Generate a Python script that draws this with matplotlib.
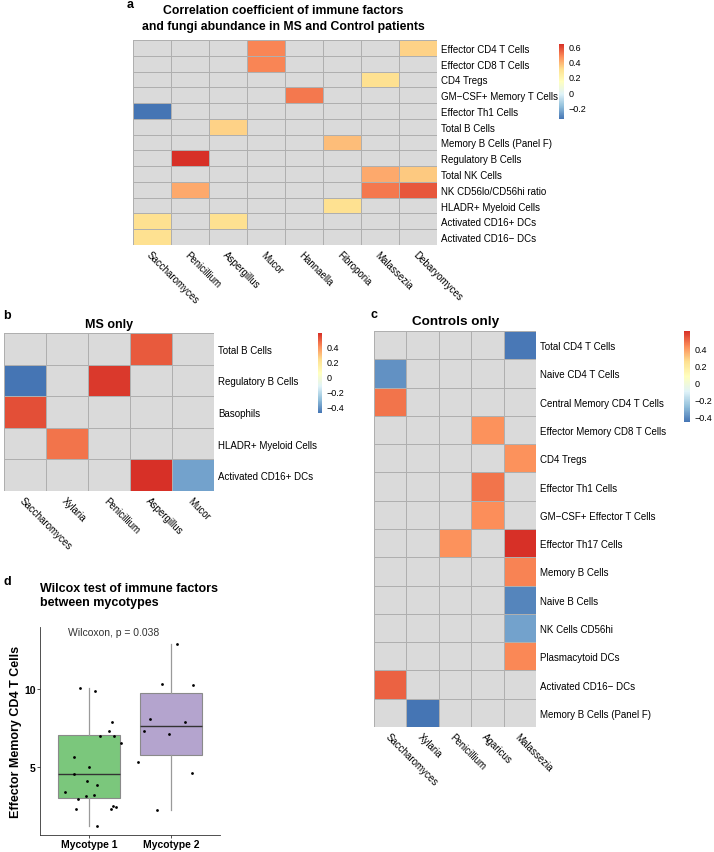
import numpy as np
import matplotlib
matplotlib.use("Agg")
import matplotlib.pyplot as plt
from matplotlib.colors import LinearSegmentedColormap, Normalize
from matplotlib.cm import ScalarMappable

plt.rcParams['font.family'] = ['Liberation Sans', 'DejaVu Sans']

nan = np.nan

# ---- panel a : correlation, MS + controls ----
a_fungi = ['Saccharomyces', 'Penicillium', 'Aspergillus', 'Mucor',
           'Hannaella', 'Fibroporia', 'Malassezia', 'Debaryomyces']
a_cells = ['Effector CD4 T Cells', 'Effector CD8 T Cells', 'CD4 Tregs',
           'GM\u2212CSF+ Memory T Cells', 'Effector Th1 Cells', 'Total B Cells',
           'Memory B Cells (Panel F)', 'Regulatory B Cells', 'Total NK Cells',
           'NK CD56lo/CD56hi ratio', 'HLADR+ Myeloid Cells',
           'Activated CD16+ DCs', 'Activated CD16\u2212 DCs']
a_vals = [
    [nan, nan, nan, 0.48, nan, nan, nan, 0.33],
    [nan, nan, nan, 0.48, nan, nan, nan, nan],
    [nan, nan, nan, nan, nan, nan, 0.30, nan],
    [nan, nan, nan, nan, 0.50, nan, nan, nan],
    [-0.35, nan, nan, nan, nan, nan, nan, nan],
    [nan, nan, 0.33, nan, nan, nan, nan, nan],
    [nan, nan, nan, nan, nan, 0.37, nan, nan],
    [nan, 0.63, nan, nan, nan, nan, nan, nan],
    [nan, nan, nan, nan, nan, nan, 0.41, 0.35],
    [nan, 0.41, nan, nan, nan, nan, 0.50, 0.56],
    [nan, nan, nan, nan, nan, 0.30, nan, nan],
    [0.30, nan, 0.30, nan, nan, nan, nan, nan],
    [0.30, nan, nan, nan, nan, nan, nan, nan],
]
a_ticks = [0.6, 0.4, 0.2, 0, -0.2]

# ---- panel b : MS only ----
b_fungi = ['Saccharomyces', 'Xylaria', 'Penicillium', 'Aspergillus', 'Mucor']
b_cells = ['Total B Cells', 'Regulatory B Cells', 'Basophils',
           'HLADR+ Myeloid Cells', 'Activated CD16+ DCs']
b_vals = [
    [nan, nan, nan, 0.50, nan],
    [-0.48, nan, 0.56, nan, nan],
    [0.52, nan, nan, nan, nan],
    [nan, 0.45, nan, nan, nan],
    [nan, nan, nan, 0.58, -0.37],
]
b_ticks = [0.4, 0.2, 0, -0.2, -0.4]

# ---- panel c : controls only ----
c_fungi = ['Saccharomyces', 'Xylaria', 'Penicillium', 'Agaricus', 'Malassezia']
c_cells = ['Total CD4 T Cells', 'Naive CD4 T Cells', 'Central Memory CD4 T Cells',
           'Effector Memory CD8 T Cells', 'CD4 Tregs', 'Effector Th1 Cells',
           'GM\u2212CSF+ Effector T Cells', 'Effector Th17 Cells', 'Memory B Cells',
           'Naive B Cells', 'NK Cells CD56hi', 'Plasmacytoid DCs',
           'Activated CD16\u2212 DCs', 'Memory B Cells (Panel F)']
c_vals = [
    [nan, nan, nan, nan, -0.46],
    [-0.40, nan, nan, nan, nan],
    [0.47, nan, nan, nan, nan],
    [nan, nan, nan, 0.41, nan],
    [nan, nan, nan, nan, 0.41],
    [nan, nan, nan, 0.47, nan],
    [nan, nan, nan, 0.42, nan],
    [nan, nan, 0.41, nan, 0.60],
    [nan, nan, nan, nan, 0.44],
    [nan, nan, nan, nan, -0.43],
    [nan, nan, nan, nan, -0.36],
    [nan, nan, nan, nan, 0.43],
    [0.50, nan, nan, nan, nan],
    [nan, -0.47, nan, nan, nan],
]
c_ticks = [0.4, 0.2, 0, -0.2, -0.4]

# ---- panel d : boxplot ----
groups = ['Mycotype 1', 'Mycotype 2']
box_stats = [  # q1, median, q3, whisker low, whisker high
    (3.0, 4.55, 7.05, 1.2, 10.05),
    (5.77, 7.6, 9.74, 2.2, 12.9),
]
myco1_y = [10.06, 9.85, 7.9, 7.3, 7.0, 7.0, 6.55, 5.6, 4.95, 4.55, 4.05,
           3.8, 3.4, 3.2, 3.1, 2.95, 2.25, 2.4, 2.45, 2.25, 1.2]
myco1_jit = [-0.11, 0.07, 0.28, 0.24, 0.13, 0.30, 0.39, -0.18, 0.0, -0.18, -0.02,
             0.10, -0.30, 0.06, -0.04, -0.13, -0.16, 0.33, 0.29, 0.27, 0.10]
myco2_y = [12.9, 10.3, 10.25, 8.1, 7.9, 7.3, 7.1, 5.3, 4.6, 2.2]
myco2_jit = [0.07, -0.11, 0.27, -0.26, 0.17, -0.33, -0.02, -0.40, 0.26, -0.17]
box_colors = ['#7BC77C', '#B4A4CE']

W, H = 714, 853
fig = plt.figure(figsize=(W / 100, H / 100), dpi=100)


def add_px(x0, y0, x1, y1):
    return fig.add_axes([x0 / W, 1 - y1 / H, (x1 - x0) / W, (y1 - y0) / H])


cmap = LinearSegmentedColormap.from_list(
    'rdylbu', ['#4575B4', '#91BFDB', '#E0F3F8', '#FFFFBF', '#FEE090', '#FC8D59', '#D73027'])
cmap.set_bad('#DADADA')


def heatmap(box, vals, rows, cols, vmin, vmax, cbox, ticks, fs=7):
    ax = add_px(*box)
    data = np.ma.masked_invalid(np.array(vals, dtype=float))
    ax.set_facecolor('#DADADA')
    ax.pcolormesh(data, cmap=cmap, vmin=vmin, vmax=vmax,
                  edgecolors='#AFAFAF', linewidth=0.6)
    ax.set_xlim(0, len(cols))
    ax.set_ylim(len(rows), 0)
    ax.set_xticks(np.arange(len(cols)) + 0.5)
    ax.set_xticklabels(cols, rotation=-45, ha='left', va='top',
                       rotation_mode='anchor', fontsize=fs)
    ax.yaxis.tick_right()
    ax.set_yticks(np.arange(len(rows)) + 0.5)
    ax.set_yticklabels(rows, fontsize=fs)
    ax.tick_params(length=0, pad=3)
    for s in ax.spines.values():
        s.set_visible(False)
    cax = add_px(*cbox)
    cb = fig.colorbar(ScalarMappable(Normalize(vmin, vmax), cmap), cax=cax)
    cb.outline.set_visible(False)
    cb.set_ticks(ticks)
    cb.set_ticklabels([('%g' % t).replace('-', '\u2212') for t in ticks])
    cax.tick_params(length=0, labelsize=6.5, pad=3)
    return ax


# a
heatmap((133, 41, 437, 246), a_vals, a_cells, a_fungi, -0.35, 0.63,
        (559, 45, 564, 120), a_ticks)
fig.text(283 / W, 1 - 19 / H,
         'Correlation coefficient of immune factors\nand fungi abundance in MS and Control patients',
         ha='center', va='center', fontsize=8.8, fontweight='bold', linespacing=1.35)
fig.text(127 / W, 1 - 5 / H, 'a', ha='left', va='center', fontsize=9, fontweight='bold')

# b
heatmap((4, 334, 214, 492), b_vals, b_cells, b_fungi, -0.48, 0.58,
        (318, 334, 322, 414), b_ticks)
fig.text(109 / W, 1 - 325 / H, 'MS only', ha='center', va='center',
         fontsize=9, fontweight='bold')
fig.text(3 / W, 1 - 316 / H, 'b', ha='left', va='center', fontsize=9, fontweight='bold')

# c
heatmap((374, 332, 536, 728), c_vals, c_cells, c_fungi, -0.47, 0.60,
        (684, 332, 690, 423), c_ticks)
fig.text(456 / W, 1 - 322 / H, 'Controls only', ha='center', va='center',
         fontsize=9.7, fontweight='bold')
fig.text(370 / W, 1 - 315 / H, 'c', ha='left', va='center', fontsize=9, fontweight='bold')

# d
ax = add_px(40, 628, 220, 836)
stats = [dict(q1=q1, med=m, q3=q3, whislo=lo, whishi=hi, fliers=[])
         for q1, m, q3, lo, hi in box_stats]
bp = ax.bxp(stats, positions=[1, 2], widths=0.75, patch_artist=True, showcaps=False,
            boxprops=dict(edgecolor='#8A8A8A', linewidth=0.8),
            whiskerprops=dict(color='#9A9A9A', linewidth=0.9),
            medianprops=dict(color='#333333', linewidth=1.0), zorder=1)
for patch, c in zip(bp['boxes'], box_colors):
    patch.set_facecolor(c)
ax.scatter(1 + np.array(myco1_jit), myco1_y, s=4, color='black', zorder=3, linewidths=0)
ax.scatter(2 + np.array(myco2_jit), myco2_y, s=4, color='black', zorder=3, linewidths=0)
ax.text(1.3, 13.7, 'Wilcoxon, p = 0.038', ha='center', va='center', fontsize=7.5,
        color='#333333')
ax.set_xlim(0.4, 2.6)
ax.set_ylim(0.6, 14.0)
ax.set_xticks([1, 2])
ax.set_xticklabels(groups, fontsize=7.5, fontweight='bold')
ax.set_yticks([5, 10])
ax.set_yticklabels(['5', '10'], fontsize=7.5, fontweight='bold')
ax.set_ylabel('Effector Memory CD4 T Cells', fontsize=9, fontweight='bold', labelpad=2)
ax.tick_params(length=2, width=0.6, color='#333333', pad=1)
for s in ['top', 'right']:
    ax.spines[s].set_visible(False)
for s in ['left', 'bottom']:
    ax.spines[s].set_color('#333333')
    ax.spines[s].set_linewidth(0.6)
fig.text(40 / W, 1 - 596 / H, 'Wilcox test of immune factors\nbetween mycotypes',
         ha='left', va='center', fontsize=9, fontweight='bold', linespacing=1.3)
fig.text(3 / W, 1 - 582 / H, 'd', ha='left', va='center', fontsize=9, fontweight='bold')

fig.savefig('out.png', dpi=100)
